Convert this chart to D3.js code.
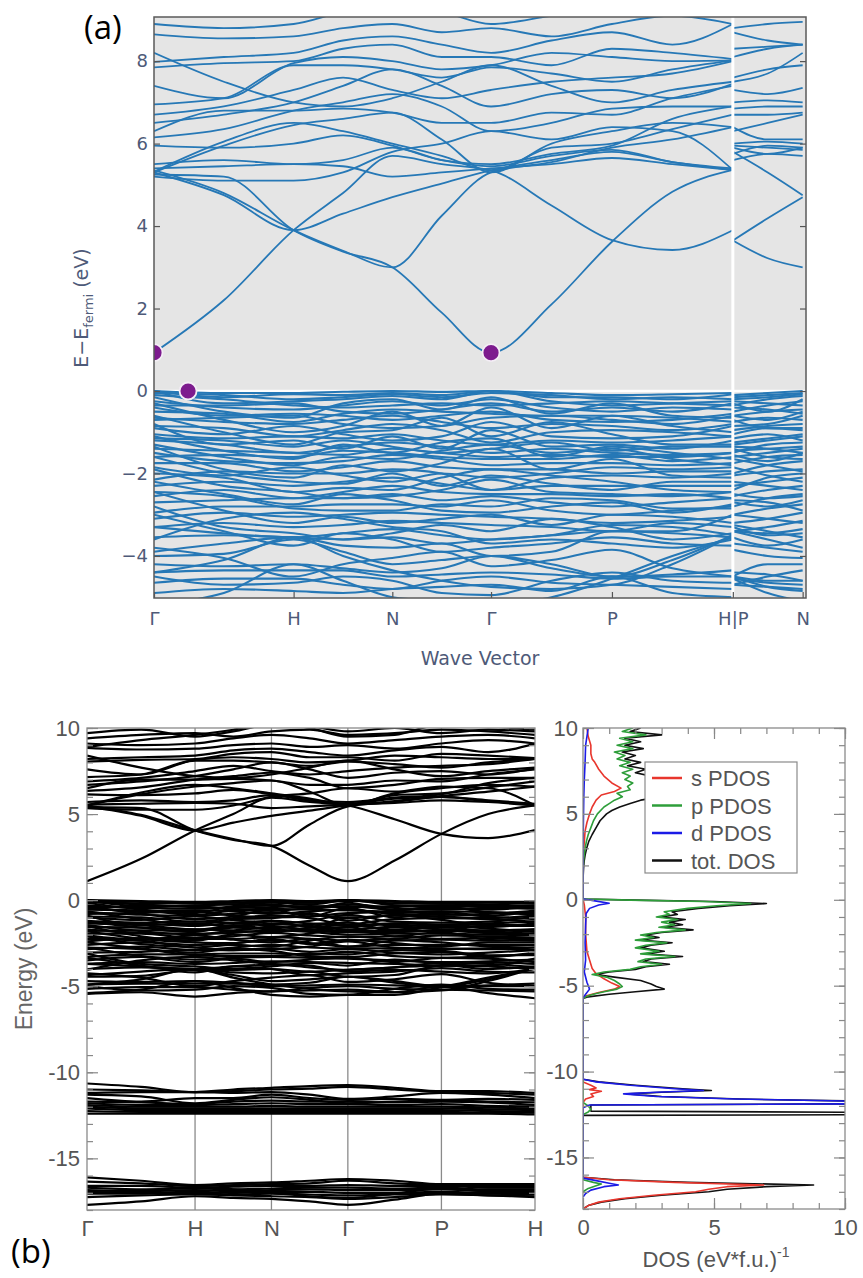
<!DOCTYPE html>
<html>
<head>
<meta charset="utf-8">
<title>Band structure and DOS</title>
<script src="https://d3js.org/d3.v7.min.js"></script>
<style>
  body { margin: 0; background: #fff; }
</style>
</head>
<body>
<svg id="fig" width="863" height="1278"></svg>
<script>
// ---------- panel (a): path Γ-H-N-Γ-P-H | P-N ----------
var kNodesA = [0, 0.5, 1, 1.354, 1.707, 2.061, 2.414, 2.847, 3.280, 3.713, 4.146];
var kNodesA2 = [4.146, 4.396, 4.646];
var kTicksA = [0, 1, 1.707, 2.414, 3.280, 4.146, 4.646];
var kLabelsA = ["Γ", "H", "N", "Γ", "P", "H|P", "N"];
var yTicksA = [-4, -2, 0, 2, 4, 6, 8];

// energies at the nodes: Γ, ΓH, H, HN, N, NΓ, Γ, ΓP, P, PH, H | P, PN, N
var condA = [
  [0.93, 2.2, 3.9, 4.8, 5.7, 5.5, 5.35, 4.5, 3.66, 3.42, 3.9, 3.65, 4.19, 4.7],
  [5.25, 5.2, 3.9, 3.38, 3.0, 1.9, 0.93, 2.1, 3.62, 4.83, 5.36, 3.65, 3.22, 3.0],
  [5.3, 4.75, 3.9, 4.3, 4.7, 5.03, 5.35, 5.6, 5.8, 5.55, 5.36, 5.8, 5.3, 4.75],
  [5.35, 4.8, 3.9, 3.4, 3.0, 4.25, 5.3, 5.55, 5.9, 6.1, 6.4, 5.95, 5.9, 5.85],
  [5.4, 5.45, 5.5, 5.45, 5.2, 5.3, 5.4, 5.5, 5.65, 5.5, 5.36, 5.6, 5.75, 5.7],
  [5.5, 5.6, 5.5, 5.6, 5.9, 5.6, 5.45, 5.7, 5.85, 5.55, 5.4, 5.75, 5.95, 5.9],
  [5.3, 5.95, 6.45, 6.6, 6.75, 6.1, 5.3, 6.0, 6.3, 6.5, 6.4, 6.3, 6.5, 6.7],
  [5.32, 6.05, 6.5, 6.3, 6.0, 5.7, 5.35, 5.9, 6.0, 6.35, 6.7, 6.0, 6.05, 6.0],
  [5.95, 5.9, 6.0, 6.2, 5.95, 5.6, 5.5, 5.75, 5.95, 6.6, 6.9, 5.9, 5.75, 5.9],
  [6.15, 6.35, 6.8, 7.0, 7.2, 6.9, 6.3, 6.5, 6.85, 6.9, 6.9, 6.85, 6.9, 6.9],
  [6.3, 6.8, 6.8, 6.85, 6.75, 6.5, 6.5, 6.75, 6.7, 7.1, 7.4, 6.7, 6.7, 6.75],
  [6.5, 6.7, 7.0, 7.4, 7.8, 7.4, 6.9, 7.2, 7.3, 7.1, 7.45, 7.3, 7.2, 7.35],
  [6.7, 6.9, 7.3, 7.6, 7.3, 7.1, 7.3, 7.5, 7.6, 7.7, 8.0, 7.6, 7.8, 7.9],
  [6.95, 7.1, 7.9, 7.9, 7.8, 7.6, 7.85, 7.7, 7.5, 7.8, 8.02, 7.5, 7.7, 8.2],
  [7.4, 7.1, 7.95, 8.1, 8.0, 7.8, 7.9, 8.2, 8.1, 8.0, 8.02, 8.1, 8.3, 8.4],
  [7.85, 7.95, 8.0, 8.3, 8.4, 8.1, 8.1, 7.9, 8.3, 8.2, 8.05, 8.3, 8.35, 8.4],
  [7.98, 8.1, 8.2, 8.5, 8.6, 8.4, 8.2, 8.5, 8.7, 8.4, 8.9, 8.7, 8.5, 8.4],
  [8.65, 8.55, 8.6, 8.8, 8.9, 8.7, 8.8, 8.6, 8.9, 9.1, 8.9, 8.8, 8.9, 8.95],
  [8.9, 8.8, 8.9, 9.2, 9.4, 9.2, 8.9, 9.1, 9.3, 9.4, 9.2, 9.3, 9.5, 9.5],
  [8.2, 7.5, 7.0, 6.9, 7.1, 7.5, 7.9, 7.4, 7.0, 7.3, 7.5, 7.0, 7.05, 7.0],
  [5.2, 5.1, 5.1, 5.3, 5.8, 6.0, 6.3, 6.1, 6.4, 6.3, 5.36, 6.4, 6.1, 6.1]
];

var valA = [
  [0, -0.05, -0.05, -0.02, 0, -0.02, 0, -0.05, -0.1, -0.08, -0.05, -0.1, -0.05, 0],
  [0, -0.15, -0.08, -0.1, -0.05, -0.1, 0, -0.15, -0.15, -0.2, -0.08, -0.15, -0.1, -0.05],
  [0, -0.3, -0.25, -0.2, -0.12, -0.2, 0, -0.25, -0.35, -0.3, -0.25, -0.35, -0.2, -0.12],
  [-0.25, -0.4, -0.45, -0.35, -0.25, -0.35, -0.2, -0.4, -0.5, -0.4, -0.45, -0.5, -0.35, -0.25],
  [-0.5, -0.55, -0.75, -0.55, -0.45, -0.5, -0.55, -0.6, -0.6, -0.65, -0.75, -0.6, -0.5, -0.45],
  [-0.65, -0.75, -0.8, -0.7, -0.6, -0.75, -0.9, -0.8, -0.85, -0.95, -0.8, -0.85, -0.8, -0.6],
  [-0.85, -0.9, -1.1, -0.95, -0.8, -0.95, -1.25, -1.0, -0.95, -1.0, -1.1, -0.95, -0.85, -0.8],
  [-1.05, -1.15, -1.1, -1.15, -1.05, -1.2, -1.3, -1.2, -1.25, -1.2, -1.1, -1.25, -1.15, -1.05],
  [-1.2, -1.3, -1.5, -1.35, -1.25, -1.35, -1.5, -1.4, -1.5, -1.55, -1.5, -1.5, -1.3, -1.25],
  [-1.4, -1.45, -1.5, -1.55, -1.4, -1.5, -1.6, -1.55, -1.6, -1.6, -1.5, -1.6, -1.5, -1.4],
  [-1.5, -1.7, -1.75, -1.7, -1.55, -1.65, -1.8, -1.75, -1.75, -1.8, -1.75, -1.75, -1.6, -1.55],
  [-1.75, -1.75, -1.95, -1.85, -1.7, -1.85, -1.9, -1.9, -2.0, -1.95, -1.95, -2.0, -1.8, -1.7],
  [-2.15, -1.95, -2.0, -2.0, -1.9, -2.0, -2.4, -2.1, -2.05, -2.1, -2.0, -2.05, -1.95, -1.9],
  [-2.3, -2.2, -2.3, -2.2, -2.1, -2.25, -2.4, -2.3, -2.3, -2.3, -2.3, -2.3, -2.2, -2.1],
  [-2.55, -2.4, -2.6, -2.45, -2.3, -2.45, -2.5, -2.5, -2.55, -2.5, -2.6, -2.55, -2.4, -2.3],
  [-2.7, -2.65, -2.6, -2.6, -2.5, -2.65, -2.55, -2.7, -2.8, -2.7, -2.6, -2.8, -2.6, -2.5],
  [-2.95, -2.8, -2.8, -2.75, -2.75, -2.8, -2.65, -2.9, -3.0, -2.9, -2.8, -3.0, -2.85, -2.75],
  [-3.1, -2.95, -3.05, -3.0, -2.95, -3.0, -3.05, -3.1, -3.2, -3.15, -3.05, -3.2, -3.1, -2.95],
  [-3.3, -3.2, -3.3, -3.25, -3.15, -3.2, -3.25, -3.3, -3.4, -3.2, -3.3, -3.4, -3.3, -3.15],
  [-3.3, -3.45, -3.55, -3.45, -3.35, -3.5, -3.6, -3.5, -3.4, -3.45, -3.55, -3.4, -3.45, -3.35],
  [-3.55, -3.5, -3.55, -3.6, -3.55, -3.7, -3.6, -3.5, -3.25, -3.3, -3.5, -3.25, -3.4, -3.55],
  [-3.9, -3.7, -3.55, -3.75, -3.8, -3.7, -4.0, -3.9, -3.4, -3.4, -3.0, -3.4, -3.6, -3.8],
  [-4.0, -3.95, -3.6, -3.9, -4.2, -4.1, -4.0, -4.2, -4.5, -4.1, -3.5, -4.5, -4.2, -4.2],
  [-4.2, -4.25, -4.2, -4.3, -4.4, -4.3, -4.0, -4.3, -4.5, -4.45, -4.35, -4.5, -4.6, -4.6],
  [-4.4, -4.35, -4.35, -4.35, -4.5, -4.45, -4.4, -4.45, -4.55, -4.5, -4.5, -4.55, -4.65, -4.7],
  [-4.65, -4.55, -4.55, -4.7, -4.8, -4.6, -4.5, -4.65, -4.7, -4.75, -4.8, -4.7, -4.75, -4.8],
  [-4.9, -4.8, -4.85, -4.9, -4.8, -4.75, -4.7, -4.85, -4.5, -4.9, -5.0, -4.5, -4.75, -4.85],
  [-5.2, -4.9, -4.2, -4.6, -5.0, -5.1, -5.2, -5.0, -4.55, -4.0, -3.55, -4.55, -4.9, -5.1],
  [-0.1, -0.2, -0.35, -0.4, -0.35, -0.3, -0.35, -0.3, -0.25, -0.3, -0.35, -0.25, -0.3, -0.35],
  [-0.4, -0.6, -0.55, -0.6, -0.7, -0.6, -0.5, -0.7, -0.75, -0.7, -0.55, -0.75, -0.65, -0.7],
  [-0.9, -1.05, -0.85, -1.05, -1.2, -1.1, -0.75, -1.1, -1.15, -1.1, -0.85, -1.15, -1.05, -1.2],
  [-1.3, -1.6, -1.8, -1.6, -1.65, -1.45, -1.3, -1.5, -1.4, -1.65, -1.8, -1.4, -1.6, -1.65],
  [-2.0, -2.1, -2.45, -2.35, -2.4, -2.1, -1.9, -2.05, -2.2, -2.4, -2.45, -2.2, -2.3, -2.4],
  [-2.45, -2.55, -2.85, -2.9, -2.9, -2.75, -2.8, -2.6, -2.65, -2.85, -2.85, -2.65, -2.7, -2.9],
  [-3.6, -3.1, -2.95, -3.1, -3.3, -3.4, -3.7, -3.6, -3.7, -3.8, -3.6, -3.7, -3.8, -3.9],
  [-4.4, -4.1, -3.55, -4.0, -4.35, -4.6, -4.75, -4.8, -4.7, -4.2, -3.5, -4.7, -4.5, -4.35],
  [-0.15, -0.5, -0.65, -0.3, -0.2, -0.45, -0.15, -0.55, -0.3, -0.6, -0.65, -0.3, -0.5, -0.2],
  [-0.3, -0.7, -1.0, -0.85, -0.5, -0.85, -0.4, -0.9, -0.6, -0.85, -1.0, -0.6, -0.7, -0.5],
  [-0.6, -1.0, -1.3, -1.0, -0.95, -0.65, -1.1, -0.75, -1.05, -1.3, -1.3, -1.05, -0.9, -0.95],
  [-0.8, -1.3, -1.2, -1.4, -1.1, -1.4, -0.95, -1.35, -1.3, -1.4, -1.2, -1.3, -1.2, -1.1],
  [-1.1, -1.45, -1.65, -1.3, -1.5, -1.25, -1.15, -1.6, -1.35, -1.5, -1.65, -1.35, -1.4, -1.5],
  [-1.35, -1.9, -2.1, -1.8, -1.95, -1.75, -1.4, -1.9, -1.65, -2.05, -2.1, -1.65, -1.8, -1.95],
  [-1.6, -2.0, -2.2, -2.25, -2.0, -2.3, -2.05, -2.25, -2.4, -2.2, -2.2, -2.4, -2.1, -2.0],
  [-1.9, -2.3, -2.45, -2.6, -2.55, -2.4, -2.15, -2.45, -2.5, -2.55, -2.45, -2.5, -2.6, -2.55],
  [-2.2, -2.5, -2.75, -2.5, -2.65, -2.9, -2.95, -2.8, -2.7, -2.95, -2.75, -2.7, -2.8, -2.65],
  [-2.45, -2.9, -3.2, -3.05, -3.2, -3.1, -3.0, -3.25, -3.0, -3.05, -3.2, -3.0, -3.1, -3.2],
  [-2.8, -3.3, -3.45, -3.6, -3.45, -3.25, -3.4, -3.1, -3.3, -3.6, -3.45, -3.3, -3.5, -3.45],
  [-3.0, -3.4, -3.75, -3.45, -3.6, -3.9, -3.8, -3.7, -3.55, -3.7, -3.75, -3.55, -3.75, -3.6],
  [-3.8, -4.05, -4.5, -4.2, -4.05, -3.9, -4.25, -4.1, -3.85, -4.3, -4.5, -3.85, -4.0, -4.05],
  [-4.5, -4.7, -4.65, -4.5, -4.6, -4.9, -4.95, -4.6, -4.4, -4.6, -4.65, -4.4, -4.45, -4.6],
  [-0.05, -0.1, -0.2, -0.15, -0.08, -0.15, -0.05, -0.1, -0.2, -0.15, -0.2, -0.2, -0.15, -0.08],
  [-0.35, -0.35, -0.3, -0.5, -0.55, -0.45, -0.3, -0.5, -0.4, -0.5, -0.3, -0.4, -0.45, -0.55],
  [-0.7, -0.65, -0.6, -0.8, -0.9, -0.85, -0.65, -0.6, -0.7, -0.8, -0.6, -0.7, -0.9, -0.9],
  [-1.15, -1.2, -1.35, -1.2, -1.35, -1.5, -1.4, -1.25, -1.45, -1.35, -1.35, -1.45, -1.4, -1.35],
  [-1.6, -1.55, -1.6, -1.45, -1.5, -1.6, -1.65, -1.65, -1.55, -1.7, -1.6, -1.55, -1.7, -1.5],
  [-1.85, -2.05, -1.85, -2.05, -2.2, -2.0, -2.1, -2.0, -1.85, -1.9, -1.85, -1.85, -2.05, -2.2]
];

// highlighted band edges (purple dots)
var markerK = [0, 0.244, 2.414];
var markerE = [0.93, 0, 0.93];

// ---------- panel (b): path Γ-H-N-Γ-P-H ----------
var kNodesB = [0, 0.5, 1, 1.354, 1.707, 2.061, 2.414, 2.847, 3.280, 3.713, 4.146];
var kTicksB = [0, 1, 1.707, 2.414, 3.280, 4.146];
var kLabelsB = ["Γ", "H", "N", "Γ", "P", "H"];
var yTicksB = [-15, -10, -5, 0, 5, 10];
var dosTicks = [0, 5, 10];

var condB = [
  [1.1, 2.4, 4.05, 5.0, 5.95, 5.7, 5.5, 4.7, 3.85, 3.6, 4.07],
  [5.4, 5.35, 4.05, 3.5, 3.15, 2.0, 1.1, 2.3, 3.85, 5.0, 5.5],
  [5.45, 4.9, 4.05, 4.5, 4.9, 5.2, 5.5, 5.75, 6.0, 5.75, 5.55],
  [5.5, 4.95, 4.05, 3.55, 3.15, 4.4, 5.45, 5.7, 6.05, 6.3, 6.6],
  [5.55, 5.6, 5.65, 5.6, 5.35, 5.45, 5.55, 5.65, 5.8, 5.7, 5.5],
  [5.7, 5.8, 5.7, 5.8, 6.1, 5.8, 5.6, 5.9, 6.0, 5.8, 5.6],
  [5.5, 6.15, 6.6, 6.8, 6.95, 6.3, 5.5, 6.2, 6.5, 6.7, 6.6],
  [5.5, 6.25, 6.7, 6.5, 6.2, 5.9, 5.55, 6.1, 6.2, 6.55, 6.9],
  [6.15, 6.1, 6.2, 6.4, 6.15, 5.8, 5.7, 5.95, 6.15, 6.8, 7.1],
  [6.35, 6.55, 7.0, 7.2, 7.4, 7.1, 6.5, 6.7, 7.05, 7.1, 7.1],
  [6.5, 7.0, 7.0, 7.05, 6.95, 6.7, 6.7, 6.95, 6.9, 7.3, 7.6],
  [6.7, 6.9, 7.2, 7.6, 8.0, 7.6, 7.1, 7.4, 7.5, 7.3, 7.65],
  [6.9, 7.1, 7.5, 7.8, 7.5, 7.3, 7.5, 7.7, 7.8, 7.9, 8.2],
  [7.15, 7.3, 8.1, 8.1, 8.0, 7.8, 8.05, 7.9, 7.7, 8.0, 8.2],
  [7.6, 7.3, 8.15, 8.3, 8.2, 8.0, 8.1, 8.4, 8.3, 8.2, 8.2],
  [8.05, 8.15, 8.2, 8.5, 8.6, 8.3, 8.3, 8.1, 8.5, 8.4, 8.25],
  [8.2, 8.3, 8.4, 8.7, 8.8, 8.6, 8.4, 8.7, 8.9, 8.6, 9.1],
  [8.85, 8.75, 8.8, 9.0, 9.1, 8.9, 9.0, 8.8, 9.1, 9.3, 9.1],
  [9.1, 9.0, 9.1, 9.4, 9.6, 9.4, 9.1, 9.3, 9.5, 9.6, 9.4],
  [8.4, 7.7, 7.2, 7.1, 7.3, 7.7, 8.1, 7.6, 7.2, 7.5, 7.7],
  [9.4, 9.6, 9.7, 9.5, 9.8, 9.9, 9.6, 9.7, 9.9, 9.8, 9.6],
  [9.7, 9.9, 9.5, 9.8, 10.2, 10.1, 9.8, 10.0, 9.7, 9.9, 9.8],
  [5.35, 5.25, 5.25, 5.5, 6.0, 6.2, 6.5, 6.3, 6.6, 6.5, 5.5],
  [8.9, 9.3, 9.6, 9.9, 10.3, 10.0, 9.5, 9.6, 10.2, 10.1, 9.9]
];

var valB = [
  [0, -0.05, -0.1, -0.05, 0, -0.05, 0, -0.05, -0.1, -0.1, -0.1],
  [0, -0.2, -0.15, -0.15, -0.1, -0.15, 0, -0.2, -0.2, -0.25, -0.15],
  [0, -0.35, -0.3, -0.25, -0.15, -0.25, 0, -0.3, -0.4, -0.35, -0.3],
  [-0.3, -0.45, -0.5, -0.4, -0.3, -0.4, -0.25, -0.45, -0.55, -0.45, -0.5],
  [-0.55, -0.6, -0.85, -0.6, -0.5, -0.55, -0.6, -0.65, -0.65, -0.7, -0.85],
  [-0.7, -0.85, -0.9, -0.8, -0.7, -0.85, -1.0, -0.9, -0.95, -1.05, -0.9],
  [-0.95, -1.0, -1.25, -1.05, -0.9, -1.05, -1.4, -1.1, -1.05, -1.1, -1.25],
  [-1.2, -1.3, -1.25, -1.3, -1.2, -1.35, -1.45, -1.35, -1.4, -1.35, -1.25],
  [-1.35, -1.45, -1.7, -1.5, -1.4, -1.5, -1.7, -1.55, -1.7, -1.75, -1.7],
  [-1.55, -1.6, -1.7, -1.75, -1.55, -1.7, -1.8, -1.75, -1.8, -1.8, -1.7],
  [-1.7, -1.9, -1.95, -1.9, -1.75, -1.85, -2.0, -1.95, -1.95, -2.0, -1.95],
  [-1.95, -1.95, -2.2, -2.1, -1.9, -2.05, -2.15, -2.1, -2.25, -2.2, -2.2],
  [-2.4, -2.2, -2.25, -2.25, -2.15, -2.25, -2.7, -2.35, -2.3, -2.35, -2.25],
  [-2.6, -2.45, -2.6, -2.5, -2.35, -2.5, -2.7, -2.6, -2.6, -2.6, -2.6],
  [-2.85, -2.7, -2.9, -2.75, -2.6, -2.75, -2.8, -2.8, -2.85, -2.8, -2.9],
  [-3.05, -3.0, -2.9, -2.9, -2.8, -3.0, -2.85, -3.05, -3.15, -3.05, -2.9],
  [-3.3, -3.15, -3.15, -3.1, -3.1, -3.15, -3.0, -3.25, -3.35, -3.25, -3.15],
  [-3.5, -3.3, -3.45, -3.35, -3.3, -3.35, -3.4, -3.5, -3.6, -3.55, -3.45],
  [-3.7, -3.6, -3.7, -3.65, -3.55, -3.6, -3.65, -3.7, -3.8, -3.6, -3.7],
  [-3.7, -3.85, -4.0, -3.85, -3.75, -3.9, -4.05, -3.9, -3.8, -3.85, -4.0],
  [-4.0, -3.9, -4.0, -4.05, -4.0, -4.15, -4.05, -3.9, -3.65, -3.7, -3.9],
  [-4.35, -4.15, -4.0, -4.2, -4.25, -4.15, -4.45, -4.35, -3.8, -3.8, -3.4],
  [-4.45, -4.4, -4.05, -4.35, -4.7, -4.6, -4.45, -4.7, -5.0, -4.6, -3.9],
  [-4.7, -4.75, -4.7, -4.8, -4.9, -4.8, -4.45, -4.8, -5.0, -4.95, -4.85],
  [-4.9, -4.85, -4.85, -4.85, -5.0, -4.95, -4.9, -4.95, -5.05, -5.0, -5.0],
  [-5.15, -5.05, -5.05, -5.2, -5.3, -5.1, -5.0, -5.15, -5.2, -5.25, -5.3],
  [-5.45, -5.35, -5.6, -5.4, -5.3, -5.25, -5.2, -5.35, -5.0, -5.4, -5.7],
  [-5.4, -5.2, -4.7, -5.1, -5.5, -5.6, -5.5, -5.5, -5.05, -4.5, -4.0],
  [-0.1, -0.25, -0.4, -0.45, -0.4, -0.35, -0.4, -0.35, -0.3, -0.35, -0.4],
  [-0.45, -0.65, -0.6, -0.65, -0.8, -0.65, -0.55, -0.8, -0.85, -0.8, -0.6],
  [-1.0, -1.15, -0.95, -1.15, -1.35, -1.2, -0.85, -1.25, -1.3, -1.25, -0.95],
  [-1.45, -1.8, -2.0, -1.8, -1.85, -1.6, -1.45, -1.7, -1.55, -1.85, -2.0],
  [-2.25, -2.35, -2.75, -2.6, -2.7, -2.35, -2.1, -2.3, -2.45, -2.7, -2.75],
  [-2.75, -2.85, -3.2, -3.25, -3.25, -3.1, -3.15, -2.9, -2.95, -3.2, -3.2],
  [-4.05, -3.5, -3.3, -3.5, -3.7, -3.8, -4.15, -4.05, -4.15, -4.25, -4.0],
  [-4.9, -4.6, -4.0, -4.5, -4.9, -5.15, -5.3, -5.35, -5.25, -4.7, -3.95],
  [-0.15, -0.55, -0.75, -0.35, -0.25, -0.5, -0.15, -0.6, -0.35, -0.7, -0.75],
  [-0.35, -0.8, -1.1, -0.95, -0.55, -0.95, -0.45, -1.0, -0.7, -0.95, -1.1],
  [-0.65, -1.1, -1.45, -1.1, -1.05, -0.75, -1.2, -0.85, -1.15, -1.45, -1.45],
  [-0.9, -1.45, -1.35, -1.55, -1.2, -1.55, -1.05, -1.5, -1.45, -1.55, -1.35],
  [-1.25, -1.6, -1.85, -1.45, -1.65, -1.4, -1.3, -1.8, -1.5, -1.65, -1.85],
  [-1.5, -2.1, -2.35, -2.0, -2.15, -1.95, -1.55, -2.1, -1.85, -2.3, -2.35],
  [-1.8, -2.25, -2.45, -2.5, -2.25, -2.55, -2.3, -2.5, -2.7, -2.45, -2.45],
  [-2.1, -2.55, -2.75, -2.9, -2.85, -2.7, -2.4, -2.75, -2.8, -2.85, -2.75],
  [-2.45, -2.8, -3.05, -2.8, -2.95, -3.25, -3.3, -3.1, -3.0, -3.3, -3.05],
  [-2.75, -3.25, -3.6, -3.4, -3.6, -3.45, -3.35, -3.6, -3.35, -3.4, -3.6],
  [-3.1, -3.7, -3.85, -4.0, -3.85, -3.65, -3.8, -3.45, -3.7, -4.0, -3.85],
  [-3.35, -3.8, -4.2, -3.85, -4.0, -4.35, -4.25, -4.15, -3.95, -4.15, -4.2],
  [-4.25, -4.5, -5.0, -4.7, -4.5, -4.35, -4.75, -4.6, -4.3, -4.8, -5.0],
  [-5.0, -5.25, -5.2, -5.0, -5.1, -5.45, -5.5, -5.15, -4.9, -5.15, -5.2],
  [-0.05, -0.1, -0.2, -0.15, -0.08, -0.15, -0.05, -0.1, -0.2, -0.15, -0.2],
  [-0.4, -0.4, -0.35, -0.55, -0.6, -0.5, -0.35, -0.55, -0.45, -0.55, -0.35],
  [-0.8, -0.75, -0.65, -0.9, -1.0, -0.95, -0.75, -0.7, -0.8, -0.9, -0.65],
  [-1.3, -1.35, -1.5, -1.35, -1.5, -1.7, -1.55, -1.4, -1.6, -1.5, -1.5],
  [-1.8, -1.75, -1.8, -1.6, -1.7, -1.8, -1.85, -1.85, -1.75, -1.9, -1.8],
  [-2.05, -2.3, -2.05, -2.3, -2.45, -2.25, -2.35, -2.25, -2.05, -2.1, -2.05]
];

var semiB = [
  [-10.65, -10.85, -11.15, -11.0, -10.9, -10.8, -10.75, -10.9, -11.1, -11.1, -11.2],
  [-11.0, -11.05, -11.15, -11.1, -11.0, -10.95, -10.85, -11.0, -11.15, -11.2, -11.3],
  [-11.2, -11.15, -11.15, -11.2, -11.15, -11.3, -11.55, -11.4, -11.2, -11.3, -11.5],
  [-11.5, -11.7, -11.5, -11.5, -11.3, -11.5, -11.6, -11.55, -11.6, -11.55, -11.6],
  [-11.7, -11.75, -11.85, -11.7, -11.65, -11.7, -11.7, -11.75, -11.7, -11.75, -11.9],
  [-11.8, -11.9, -11.9, -11.85, -11.8, -11.85, -11.85, -11.9, -11.85, -11.95, -12.0],
  [-11.9, -12.0, -12.0, -12.0, -11.95, -12.0, -12.0, -12.0, -12.0, -12.05, -12.1],
  [-12.0, -12.1, -12.1, -12.1, -12.1, -12.1, -12.1, -12.1, -12.1, -12.15, -12.2],
  [-12.1, -12.2, -12.2, -12.2, -12.2, -12.2, -12.2, -12.2, -12.2, -12.25, -12.3],
  [-12.25, -12.3, -12.3, -12.3, -12.3, -12.3, -12.3, -12.3, -12.3, -12.35, -12.35],
  [-12.4, -12.4, -12.4, -12.4, -12.4, -12.4, -12.4, -12.4, -12.4, -12.4, -12.45],
  [-11.3, -11.4, -11.8, -11.6, -11.45, -11.6, -11.8, -11.7, -11.65, -11.7, -11.75]
];

var deepB = [
  [-16.1, -16.3, -16.55, -16.45, -16.4, -16.3, -16.2, -16.3, -16.5, -16.5, -16.5],
  [-16.35, -16.45, -16.6, -16.55, -16.5, -16.45, -16.3, -16.45, -16.55, -16.6, -16.6],
  [-16.6, -16.6, -16.7, -16.65, -16.6, -16.6, -16.55, -16.6, -16.6, -16.7, -16.7],
  [-16.7, -16.8, -16.75, -16.8, -16.75, -16.7, -16.7, -16.75, -16.7, -16.8, -16.8],
  [-16.85, -16.9, -16.85, -16.9, -16.85, -16.8, -16.85, -16.85, -16.8, -16.9, -16.9],
  [-16.95, -17.0, -16.95, -17.0, -16.95, -16.95, -17.0, -17.0, -16.95, -17.0, -17.0],
  [-17.05, -17.05, -17.0, -17.1, -17.05, -17.1, -17.15, -17.1, -17.05, -17.05, -17.1],
  [-17.25, -17.15, -17.1, -17.15, -17.2, -17.25, -17.35, -17.25, -17.1, -17.15, -17.2],
  [-17.7, -17.5, -17.2, -17.3, -17.35, -17.5, -17.7, -17.4, -17.05, -17.15, -17.25],
  [-17.0, -16.9, -16.65, -16.8, -17.0, -17.2, -17.3, -17.05, -16.75, -16.9, -17.0]
];

// DOS curves as [energy, DOS] pairs
var dosTot = [
  [10, 2.2], [9.8, 1.8], [9.6, 3.0], [9.4, 1.6], [9.2, 2.2], [9.0, 1.6], [8.8, 2.3], [8.6, 1.5],
  [8.4, 2.0], [8.2, 1.6], [8.0, 2.2], [7.8, 1.7], [7.6, 2.4], [7.4, 2.0], [7.2, 2.6], [7.0, 2.5],
  [6.8, 2.9], [6.6, 3.2], [6.4, 3.4], [6.2, 2.6], [6.0, 3.0], [5.8, 2.2], [5.6, 1.8], [5.4, 1.4],
  [5.2, 1.1], [5.0, 0.9], [4.6, 0.65], [4.2, 0.5], [3.8, 0.35], [3.4, 0.22], [3.0, 0.14], [2.6, 0.08],
  [2.2, 0.04], [1.8, 0.02], [1.2, 0], [0.05, 0], [-0.02, 2.0], [-0.1, 5.0], [-0.22, 7.0], [-0.35, 5.6],
  [-0.5, 4.4], [-0.7, 3.4], [-0.85, 3.6], [-1.0, 3.0], [-1.15, 3.9], [-1.3, 3.3], [-1.45, 3.8], [-1.6, 3.1],
  [-1.75, 4.2], [-1.9, 3.0], [-2.05, 2.4], [-2.2, 2.9], [-2.35, 2.2], [-2.5, 3.4], [-2.65, 2.6], [-2.8, 2.2],
  [-3.0, 3.1], [-3.15, 2.4], [-3.3, 3.8], [-3.45, 2.6], [-3.6, 2.3], [-3.75, 3.3], [-3.9, 2.4], [-4.05, 2.0],
  [-4.2, 1.0], [-4.35, 0.5], [-4.5, 1.2], [-4.7, 2.2], [-4.9, 2.6], [-5.05, 2.8], [-5.2, 3.1], [-5.35, 2.0],
  [-5.5, 1.0], [-5.65, 0.2], [-5.75, 0], [-10.45, 0], [-10.6, 0.6], [-10.8, 2.0], [-11.0, 3.8], [-11.1, 4.9],
  [-11.2, 3.0], [-11.3, 1.7], [-11.45, 3.0], [-11.6, 6.0], [-11.72, 10.5], [-11.8, 14], [-11.85, 14], [-11.95, 0.3],
  [-12.3, 0.3], [-12.4, 14], [-12.5, 14], [-12.55, 0], [-16.15, 0], [-16.3, 1.2], [-16.45, 4.0], [-16.6, 8.8],
  [-16.7, 7.0], [-16.85, 5.5], [-17.0, 4.8], [-17.2, 3.0], [-17.4, 1.6], [-17.6, 0.7], [-17.8, 0.2], [-18, 0]
];
var dosS = [
  [10, 0.15], [9.5, 0.2], [9.0, 0.3], [8.5, 0.3], [8.2, 0.35], [8.0, 0.45], [7.6, 0.6], [7.2, 0.8],
  [6.8, 1.1], [6.5, 1.45], [6.3, 1.2], [6.1, 0.7], [5.8, 0.5], [5.4, 0.35], [5.0, 0.25], [4.5, 0.15],
  [4.0, 0.08], [3.0, 0.03], [2.0, 0], [0.05, 0], [-0.3, 0.05], [-1.0, 0.1], [-2.0, 0.1], [-3.0, 0.15],
  [-3.5, 0.25], [-4.0, 0.35], [-4.3, 0.5], [-4.6, 0.8], [-4.85, 1.1], [-5.05, 1.4], [-5.2, 1.2], [-5.4, 0.6],
  [-5.6, 0.1], [-5.75, 0], [-10.6, 0], [-10.8, 0.3], [-10.95, 0.5], [-11.05, 0.25], [-11.15, 0.7], [-11.3, 0.3],
  [-11.45, 0.4], [-11.6, 0.1], [-11.8, 0], [-16.15, 0], [-16.3, 1.0], [-16.45, 3.5], [-16.6, 6.9], [-16.7, 5.5],
  [-16.85, 4.8], [-17.0, 4.3], [-17.2, 2.7], [-17.4, 1.4], [-17.6, 0.6], [-17.8, 0.2], [-18, 0]
];
var dosP = [
  [10, 1.9], [9.8, 1.5], [9.6, 2.4], [9.4, 1.4], [9.2, 1.9], [9.0, 1.3], [8.8, 1.9], [8.6, 1.2],
  [8.4, 1.6], [8.2, 1.3], [8.0, 1.8], [7.8, 1.4], [7.6, 1.9], [7.4, 1.5], [7.2, 1.8], [7.0, 1.6],
  [6.8, 1.9], [6.6, 1.7], [6.4, 1.8], [6.2, 1.3], [6.0, 1.5], [5.8, 1.2], [5.6, 1.0], [5.4, 0.8],
  [5.0, 0.55], [4.6, 0.4], [4.2, 0.3], [3.8, 0.2], [3.4, 0.13], [3.0, 0.08], [2.4, 0.03], [1.8, 0],
  [0.05, 0], [-0.02, 1.8], [-0.1, 4.6], [-0.22, 6.4], [-0.35, 5.1], [-0.5, 4.0], [-0.7, 3.1], [-0.85, 3.3],
  [-1.0, 2.8], [-1.15, 3.6], [-1.3, 3.0], [-1.45, 3.5], [-1.6, 2.9], [-1.75, 3.9], [-1.9, 2.8], [-2.05, 2.2],
  [-2.2, 2.7], [-2.35, 2.0], [-2.5, 3.2], [-2.65, 2.4], [-2.8, 2.0], [-3.0, 2.9], [-3.15, 2.2], [-3.3, 3.5],
  [-3.45, 2.4], [-3.6, 2.1], [-3.75, 3.0], [-3.9, 2.2], [-4.05, 1.8], [-4.2, 0.8], [-4.35, 0.35], [-4.5, 0.9],
  [-4.7, 1.2], [-4.9, 1.4], [-5.05, 1.5], [-5.2, 1.3], [-5.35, 0.8], [-5.5, 0.4], [-5.65, 0.1], [-5.75, 0],
  [-11.8, 0], [-12.0, 0.2], [-12.2, 0.3], [-12.35, 0.2], [-12.5, 0], [-16.3, 0], [-16.45, 0.4], [-16.55, 0.7],
  [-16.65, 0.5], [-16.8, 0.2], [-17.0, 0]
];
var dosD = [
  [10, 0.2], [9.5, 0.15], [9.0, 0.1], [8.0, 0.08], [7.0, 0.05], [6.0, 0.03], [5.0, 0.02], [3.0, 0],
  [0.05, 0], [-0.05, 0.4], [-0.2, 1.0], [-0.3, 0.6], [-0.5, 0.25], [-0.8, 0.12], [-1.5, 0.1], [-2.5, 0.08],
  [-3.5, 0.1], [-4.2, 0.05], [-4.8, 0.15], [-5.2, 0.25], [-5.5, 0.1], [-5.7, 0], [-10.45, 0], [-10.6, 0.5],
  [-10.8, 1.8], [-11.0, 3.5], [-11.1, 4.6], [-11.2, 2.8], [-11.3, 1.55], [-11.45, 2.8], [-11.6, 5.8], [-11.72, 10.3],
  [-11.8, 14], [-11.85, 14], [-11.95, 0.25], [-12.1, 0], [-16.2, 0], [-16.35, 0.5], [-16.5, 1.0], [-16.6, 1.35],
  [-16.7, 0.8], [-16.9, 0.3], [-17.1, 0.1], [-17.3, 0]
];

var legendItems = ["s PDOS", "p PDOS", "d PDOS", "tot. DOS"];
var legendColors = ["#e8362d", "#2e9e3a", "#1b1be6", "#111111"];

// ------------------------------------------------------------
var svg = d3.select("#fig");
var blue = "#2678b6";
var txtA = "#4e5a78";
var txtB = "#555555";

// ===== panel (a) =====
var pa = { l: 154, r: 806, t: 17, b: 598 };
var xA = d3.scaleLinear().domain([0, 4.67]).range([pa.l, pa.r]);
var yA = d3.scaleLinear().domain([-5.02, 9.07]).range([pa.b, pa.t]);

svg.append("clipPath").attr("id", "clipA")
  .append("rect").attr("x", pa.l).attr("y", pa.t).attr("width", pa.r - pa.l).attr("height", pa.b - pa.t);

var gA = svg.append("g");
gA.append("rect").attr("x", pa.l).attr("y", pa.t).attr("width", pa.r - pa.l).attr("height", pa.b - pa.t)
  .attr("fill", "#e5e5e5");

var plotA = gA.append("g").attr("clip-path", "url(#clipA)");
plotA.append("line").attr("x1", pa.l).attr("x2", pa.r).attr("y1", yA(0)).attr("y2", yA(0))
  .attr("stroke", "#fff").attr("stroke-width", 2.5);

var lineA = d3.line().x(function(d) { return xA(d[0]); }).y(function(d) { return yA(d[1]); })
  .curve(d3.curveMonotoneX);

function drawBandsA(list, width) {
  list.forEach(function(b) {
    var p1 = kNodesA.map(function(k, i) { return [k, b[i]]; });
    var p2 = kNodesA2.map(function(k, i) { return [k, b[11 + i]]; });
    [p1, p2].forEach(function(p) {
      plotA.append("path").attr("d", lineA(p))
        .attr("fill", "none").attr("stroke", blue).attr("stroke-width", width);
    });
  });
}
drawBandsA(condA, 1.8);
drawBandsA(valA, 2.1);

// path break
plotA.append("line").attr("x1", xA(4.146)).attr("x2", xA(4.146)).attr("y1", pa.t).attr("y2", pa.b)
  .attr("stroke", "#fff").attr("stroke-width", 3);

plotA.selectAll(".mark").data(markerK).enter().append("circle")
  .attr("cx", function(d) { return xA(d); })
  .attr("cy", function(d, i) { return yA(markerE[i]); })
  .attr("r", 8.5)
  .attr("fill", "#7d1b8e").attr("stroke", "#f4eef6").attr("stroke-width", 1.8);

// axes (inward ticks)
function styleAxis(g, color, size, family) {
  g.select(".domain").remove();
  g.selectAll(".tick line").attr("stroke", color).attr("stroke-width", 1.2);
  g.selectAll(".tick text").attr("fill", color).style("font-size", size + "px").style("font-family", family);
}
var famA = "'DejaVu Sans', sans-serif";
var famB = "'Liberation Sans', Arial, sans-serif";

var axLA = gA.append("g").attr("transform", "translate(" + pa.l + ",0)")
  .call(d3.axisLeft(yA).tickValues(yTicksA).tickSize(-6).tickPadding(6));
styleAxis(axLA, "#555", 18, famA);
axLA.selectAll(".tick text").attr("fill", txtA);
var axRA = gA.append("g").attr("transform", "translate(" + pa.r + ",0)")
  .call(d3.axisRight(yA).tickValues(yTicksA).tickSize(-6).tickFormat(""));
styleAxis(axRA, "#555", 18, famA);
var axBA = gA.append("g").attr("transform", "translate(0," + pa.b + ")")
  .call(d3.axisBottom(xA).tickValues(kTicksA).tickSize(-6).tickPadding(14)
    .tickFormat(function(d, i) { return kLabelsA[i]; }));
styleAxis(axBA, "#555", 18, famA);
axBA.selectAll(".tick text").attr("fill", txtA);

gA.append("rect").attr("x", pa.l).attr("y", pa.t).attr("width", pa.r - pa.l).attr("height", pa.b - pa.t)
  .attr("fill", "none").attr("stroke", "#5a5a5a").attr("stroke-width", 1.5);

gA.append("text").attr("x", 480).attr("y", 665).attr("text-anchor", "middle")
  .attr("fill", txtA).style("font-size", "19px").style("font-family", famA).text("Wave Vector");

var ylabA = gA.append("text").attr("transform", "translate(88,308) rotate(-90)")
  .attr("text-anchor", "middle").attr("fill", txtA)
  .style("font-size", "19px").style("font-family", famA);
ylabA.append("tspan").text("E−E");
ylabA.append("tspan").attr("dy", 5).style("font-size", "13px").text("fermi");
ylabA.append("tspan").attr("dy", -5).text(" (eV)");

svg.append("text").attr("x", 84).attr("y", 39).style("font-size", "33px")
  .style("font-family", "'Open Sans', sans-serif").attr("fill", "#000").text("(a)");

// ===== panel (b): bands =====
var pb = { l: 87, r: 535, t: 728, b: 1210 };
var xB = d3.scaleLinear().domain([0, 4.146]).range([pb.l, pb.r]);
var yB = d3.scaleLinear().domain([-18, 10]).range([pb.b, pb.t]);

svg.append("clipPath").attr("id", "clipB")
  .append("rect").attr("x", pb.l).attr("y", pb.t).attr("width", pb.r - pb.l).attr("height", pb.b - pb.t);

var gB = svg.append("g");
var plotB = gB.append("g").attr("clip-path", "url(#clipB)");

plotB.selectAll(".kline").data(kTicksB.slice(1, 5)).enter().append("line")
  .attr("x1", function(d) { return xB(d); }).attr("x2", function(d) { return xB(d); })
  .attr("y1", pb.t).attr("y2", pb.b).attr("stroke", "#8a8a8a").attr("stroke-width", 1.3);

var lineB = d3.line().x(function(d) { return xB(d[0]); }).y(function(d) { return yB(d[1]); })
  .curve(d3.curveMonotoneX);

condB.concat(valB, semiB, deepB).forEach(function(b) {
  plotB.append("path").attr("d", lineB(kNodesB.map(function(k, i) { return [k, b[i]]; })))
    .attr("fill", "none").attr("stroke", "#000").attr("stroke-width", 2.2);
});

var minorE = d3.range(-18, 11);
var axLBm = gB.append("g").attr("transform", "translate(" + pb.l + ",0)")
  .call(d3.axisLeft(yB).tickValues(minorE).tickSize(-6).tickFormat(""));
styleAxis(axLBm, "#888", 22, famB);
var axLB = gB.append("g").attr("transform", "translate(" + pb.l + ",0)")
  .call(d3.axisLeft(yB).tickValues(yTicksB).tickSize(-11).tickPadding(7)
    .tickFormat(function(d) { return String(d); }));
styleAxis(axLB, "#888", 22, famB);
axLB.selectAll(".tick text").attr("fill", txtB);
var axRBm = gB.append("g").attr("transform", "translate(" + pb.r + ",0)")
  .call(d3.axisRight(yB).tickValues(minorE).tickSize(-6).tickFormat(""));
styleAxis(axRBm, "#888", 22, famB);
var axRB = gB.append("g").attr("transform", "translate(" + pb.r + ",0)")
  .call(d3.axisRight(yB).tickValues(yTicksB).tickSize(-11).tickFormat(""));
styleAxis(axRB, "#888", 22, famB);
var axBB = gB.append("g").attr("transform", "translate(0," + pb.b + ")")
  .call(d3.axisBottom(xB).tickValues(kTicksB).tickSize(0).tickPadding(10)
    .tickFormat(function(d, i) { return kLabelsB[i]; }));
styleAxis(axBB, "#888", 22, famB);
axBB.selectAll(".tick text").attr("fill", txtB);

gB.append("rect").attr("x", pb.l).attr("y", pb.t).attr("width", pb.r - pb.l).attr("height", pb.b - pb.t)
  .attr("fill", "none").attr("stroke", "#8a8a8a").attr("stroke-width", 1.3);

gB.append("text").attr("transform", "translate(32,969) rotate(-90)").attr("text-anchor", "middle")
  .attr("fill", "#666").style("font-size", "23px").style("font-family", famB).text("Energy (eV)");

svg.append("text").attr("x", 11).attr("y", 1263).style("font-size", "33px")
  .style("font-family", "'Open Sans', sans-serif").attr("fill", "#000").text("(b)");

// ===== panel (b): DOS =====
var pd = { l: 583, r: 845, t: 728, b: 1209 };
var xD = d3.scaleLinear().domain([0, 10]).range([pd.l, pd.r]);
var yD = d3.scaleLinear().domain([-18, 10]).range([pd.b, pd.t]);

svg.append("clipPath").attr("id", "clipD")
  .append("rect").attr("x", pd.l).attr("y", pd.t).attr("width", pd.r - pd.l).attr("height", pd.b - pd.t);

var gD = svg.append("g");
var plotD = gD.append("g").attr("clip-path", "url(#clipD)");
var lineD = d3.line().x(function(d) { return xD(d[1]); }).y(function(d) { return yD(d[0]); });

[[dosTot, legendColors[3]], [dosS, legendColors[0]], [dosP, legendColors[1]], [dosD, legendColors[2]]]
  .forEach(function(s) {
    plotD.append("path").attr("d", lineD(s[0])).attr("fill", "none")
      .attr("stroke", s[1]).attr("stroke-width", 1.6).attr("stroke-linejoin", "round");
  });

var minorD = d3.range(0, 11);
[["left", pd.l], ["right", pd.r]].forEach(function(a) {
  var mk = a[0] === "left" ? d3.axisLeft : d3.axisRight;
  var gm = gD.append("g").attr("transform", "translate(" + a[1] + ",0)")
    .call(mk(yD).tickValues(minorE).tickSize(-6).tickFormat(""));
  styleAxis(gm, "#888", 22, famB);
  var gM = gD.append("g").attr("transform", "translate(" + a[1] + ",0)")
    .call(mk(yD).tickValues(yTicksB).tickSize(-11).tickPadding(5)
      .tickFormat(a[0] === "left" ? function(d) { return String(d); } : ""));
  styleAxis(gM, "#888", 22, famB);
  gM.selectAll(".tick text").attr("fill", txtB);
});
[["top", pd.t], ["bottom", pd.b]].forEach(function(a) {
  var mk = a[0] === "top" ? d3.axisTop : d3.axisBottom;
  var gm = gD.append("g").attr("transform", "translate(0," + a[1] + ")")
    .call(mk(xD).tickValues(minorD).tickSize(-6).tickFormat(""));
  styleAxis(gm, "#888", 22, famB);
  var gM = gD.append("g").attr("transform", "translate(0," + a[1] + ")")
    .call(mk(xD).tickValues(dosTicks).tickSize(-11).tickPadding(10)
      .tickFormat(a[0] === "bottom" ? function(d) { return String(d); } : ""));
  styleAxis(gM, "#888", 22, famB);
  gM.selectAll(".tick text").attr("fill", txtB);
});

gD.append("rect").attr("x", pd.l).attr("y", pd.t).attr("width", pd.r - pd.l).attr("height", pd.b - pd.t)
  .attr("fill", "none").attr("stroke", "#8a8a8a").attr("stroke-width", 1.3);

var xlabD = gD.append("text").attr("x", 716).attr("y", 1267).attr("text-anchor", "middle")
  .attr("fill", txtB).style("font-size", "22px").style("font-family", famB);
xlabD.append("tspan").text("DOS (eV*f.u.)");
xlabD.append("tspan").attr("dy", -10).style("font-size", "14px").text("-1");

// legend
var lg = gD.append("g");
lg.append("rect").attr("x", 645).attr("y", 762).attr("width", 152).attr("height", 111)
  .attr("fill", "#fff").attr("stroke", "#8a8a8a").attr("stroke-width", 1.2);
var li = lg.selectAll(".li").data(legendItems).enter().append("g")
  .attr("transform", function(d, i) { return "translate(0," + (778 + i * 27.5) + ")"; });
li.append("line").attr("x1", 652).attr("x2", 682).attr("y1", 0).attr("y2", 0)
  .attr("stroke", function(d, i) { return legendColors[i]; }).attr("stroke-width", 2.5);
li.append("text").attr("x", 691).attr("y", 8).attr("fill", txtB)
  .style("font-size", "22px").style("font-family", famB).text(function(d) { return d; });
</script>
</body>
</html>
